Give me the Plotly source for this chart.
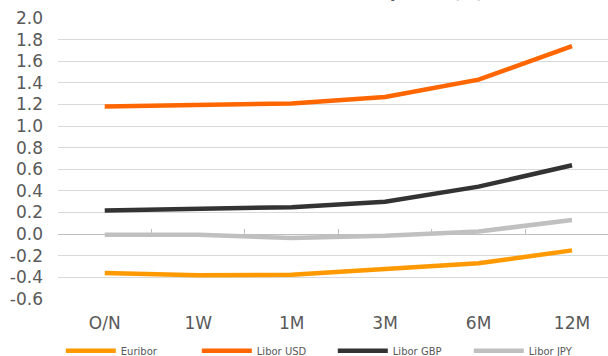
import plotly.graph_objects as go

# Plazos y tipos (%)
plazos = ["O/N", "1W", "1M", "3M", "6M", "12M"]
euribor = [-0.36, -0.38, -0.375, -0.32, -0.27, -0.15]
libor_usd = [1.18, 1.19, 1.21, 1.27, 1.43, 1.74]
libor_gbp = [0.22, 0.236, 0.25, 0.30, 0.44, 0.637]
libor_jpy = [-0.005, -0.005, -0.035, -0.015, 0.025, 0.13]

y_ticks = [2.0, 1.8, 1.6, 1.4, 1.2, 1.0, 0.8, 0.6, 0.4, 0.2, 0.0, -0.2, -0.4, -0.6]

series = [
    ("Euribor", euribor, "#FF9900"),
    ("Libor USD", libor_usd, "#FF6600"),
    ("Libor GBP", libor_gbp, "#333333"),
    ("Libor JPY", libor_jpy, "#C0C0C0"),
]

fig = go.Figure()
for name, vals, color in series:
    fig.add_trace(go.Scatter(
        x=plazos, y=vals, name=name, mode="lines",
        line=dict(color=color, width=4.5),
    ))

# Eje de categorías dibujado sobre la línea del cero
fig.add_trace(go.Scatter(
    x=plazos, y=[None] * len(plazos), xaxis="x2", showlegend=False,
    hoverinfo="skip", mode="lines",
))

font = "DejaVu Sans, Verdana, sans-serif"
y_min, y_max = -0.6, 2.0

fig.update_layout(
    width=608, height=356,
    margin=dict(l=58, r=0, t=18, b=57, autoexpand=False),
    paper_bgcolor="white", plot_bgcolor="white",
    showlegend=True,
    legend=dict(
        orientation="h", xref="container", yref="container",
        x=0.1, xanchor="left", y=0.015, yanchor="middle",
        font=dict(family=font, size=10, color="#595959"),
        itemwidth=50, entrywidth=71, tracegroupgap=0,
        bgcolor="rgba(0,0,0,0)",
    ),
    xaxis=dict(
        type="category", categoryarray=plazos, range=[-0.5, 5.385],
        showgrid=False, showline=False, ticks="", zeroline=False,
        tickfont=dict(family=font, size=17, color="#595959"),
        ticklabelstandoff=12,
    ),
    xaxis2=dict(
        type="category", categoryarray=plazos, range=[-0.5, 5.385],
        overlaying="x", anchor="free", position=(0 - y_min) / (y_max - y_min),
        side="bottom", showticklabels=False, showgrid=False, zeroline=False,
        showline=True, linecolor="#BFBFBF", linewidth=1,
        ticks="inside", tickson="boundaries", ticklen=5, tickcolor="#BFBFBF",
    ),
    yaxis=dict(
        range=[y_min, y_max], tickvals=y_ticks,
        ticktext=[f"{v:.1f}" for v in y_ticks],
        showgrid=True, gridcolor="#D9D9D9", gridwidth=1,
        zeroline=False, showline=False, ticks="",
        tickfont=dict(family=font, size=17, color="#595959"),
        ticklabelstandoff=14,
    ),
    annotations=[dict(
        text="<b>Tasas interbancarias a plazos (%)</b>",
        xref="paper", yref="paper", x=0.5, y=1, xanchor="center",
        yanchor="bottom", yshift=14, showarrow=False,
        font=dict(family=font, size=16, color="#595959"),
    )],
)

fig.write_html("out.html")
